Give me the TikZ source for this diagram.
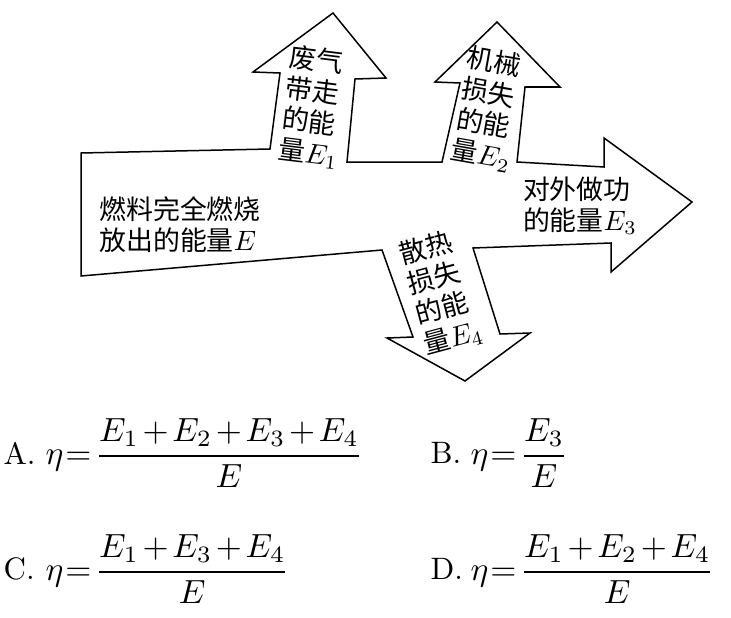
\documentclass[tikz,border=0pt]{standalone}
\usepackage{amsmath}
\usepackage{graphicx}
\usepackage{fontspec}
\newfontfamily\cjk{Noto Sans CJK SC}
\newcommand{\opteq}[1]{$\medmuskip=2mu\relax\eta\mkern1mu{=}\mkern2mu#1$}
\tikzset{
  outline/.style={draw=black, line width=1.5pt, line join=miter},
  lbl/.style={font=\cjk\fontsize{9.6}{11.1}\selectfont, scale=2.8, inner sep=0pt, align=left},
  optlbl/.style={font=\fontsize{10}{12}\selectfont, scale=3.1, inner sep=0pt, anchor=west},
  optmath/.style={font=\fontsize{10}{12}\selectfont, scale=3.35, inner sep=0pt, anchor=west},
}
\begin{document}
\begin{tikzpicture}[x=1pt,y=-1pt]
\path[use as bounding box] (0,0) rectangle (731,618);
\draw[outline] (81,153) -- (270,149) -- (280,73) -- (253,72) -- (333,13) -- (386,78) -- (355,79) -- (347,162)
  -- (442,162) -- (460,83) -- (435,82) -- (497,22) -- (560,87) -- (525,87) -- (517,162)
  -- (604,167) -- (604,138) -- (692,202) -- (611,272) -- (611,243)
  -- (473,248) -- (500,334) -- (530,333) -- (465,381) -- (387,338) -- (413,337) -- (382,250)
  -- (81,276) -- cycle;
\node[lbl] (src) at (180,225) {燃料完全燃烧\\放出的能量$E$};
\node[lbl, rotate=-7] (e1) at (314,107) {废气\\带走\\的能\\量$E_1$};
\node[lbl, rotate=-10] (e2) at (489,109) {机械\\损失\\的能\\量$E_2$};
\node[lbl] (e3) at (580,206) {对外做功\\的能量$E_3$};
\node[lbl, rotate=15] (e4) at (441,293) {散热\\损失\\的能\\量$E_4$};
\node[optlbl] (la) at (3,453) {A.};
\node[optmath] (a) at (45,453) {\opteq{\dfrac{E_1+E_2+E_3+E_4}{E}}};
\node[optlbl] (lb) at (430,453) {B.};
\node[optmath] (b) at (470,453) {\opteq{\dfrac{E_3}{E}}};
\node[optlbl] (lc) at (3,569) {C.};
\node[optmath] (c) at (45,569) {\opteq{\dfrac{E_1+E_3+E_4}{E}}};
\node[optlbl] (ld) at (430,569) {D.};
\node[optmath] (d) at (470,569) {\opteq{\dfrac{E_1+E_2+E_4}{E}}};
\end{tikzpicture}
\end{document}
